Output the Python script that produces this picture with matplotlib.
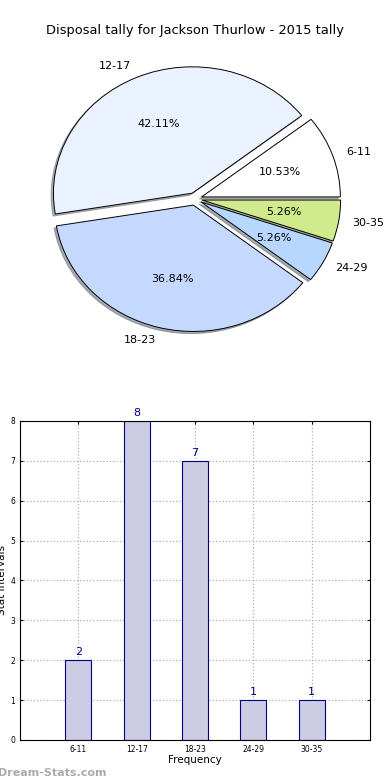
import matplotlib
matplotlib.use('Agg')
import matplotlib.pyplot as plt
import numpy as np

# data
intervals = ['6-11', '12-17', '18-23', '24-29', '30-35']
counts = [2, 8, 7, 1, 1]
slice_colors = ['#ffffff', '#eaf1ff', '#c5d9ff', '#b7d7ff', '#cfeb8b']
explode = [0.05, 0.05, 0.05, 0.05, 0.05]

fig = plt.figure(figsize=(3.9, 7.8), dpi=100)

# pie (old style, not forced round)
ax1 = fig.add_axes([0.0, 0.5654, 1.0, 0.359])
wedges, texts, autotexts = ax1.pie(counts, labels=intervals, colors=slice_colors, explode=explode,
                                   autopct='%1.2f%%', startangle=0,
                                   shadow={'ox': -0.012, 'oy': -0.012, 'shade': 0.6},
                                   wedgeprops={'edgecolor': 'black', 'linewidth': 0.7},
                                   textprops={'fontsize': 8})
ax1.set_aspect('auto')
ax1.set_xlim(-1.405, 1.405)
ax1.set_ylim(-1.108, 1.108)
fig.text(0.5, 0.961, 'Disposal tally for Jackson Thurlow - 2015 tally', ha='center', va='center', fontsize=9.4)

# bars
ax2 = fig.add_axes([0.0513, 0.0513, 0.8974, 0.409])
x = np.arange(1, len(intervals) + 1)
bars = ax2.bar(x, counts, width=0.45, color='#ccccE5', edgecolor='#000080', linewidth=0.8, zorder=2)
for xi, c in zip(x, counts):
    ax2.text(xi, c + 0.08, str(c), ha='center', va='bottom', color='#000080', fontsize=8)
ax2.set_xlim(0, 6)
ax2.set_ylim(0, 8)
ax2.set_xticks(x)
ax2.set_xticklabels(intervals, fontsize=5.5)
ax2.tick_params(axis='y', labelsize=5.5, right=True, direction='in', length=2)
ax2.tick_params(axis='x', top=True, direction='in', length=2)
ax2.grid(True, linestyle=':', color='#b0b0b0', linewidth=0.9, zorder=0)
ax2.set_axisbelow(True)
ax2.set_xlabel('Frequency', fontsize=7.5, labelpad=1)
ax2.set_ylabel('Stat Intervals', fontsize=7.5, labelpad=2)

fig.text(-0.005, 0.003, 'Dream-Stats.com', color='#aaaaaa', fontsize=8, fontweight='bold', ha='left', va='bottom')

fig.savefig('out.png', dpi=100)
